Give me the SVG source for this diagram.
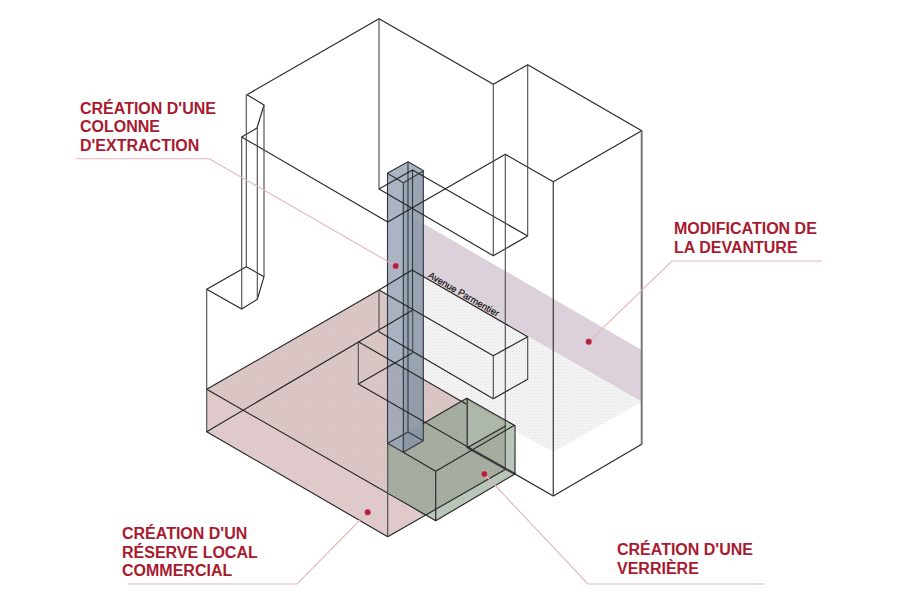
<svg xmlns="http://www.w3.org/2000/svg" width="900" height="600" viewBox="0 0 900 600">
<style>
.l{fill:none;stroke:#262626;stroke-width:1.15;stroke-linejoin:round;stroke-linecap:round}
.v{fill:none;stroke:#4a4a4a;stroke-width:1.1}
.c{fill:none;stroke:#2f3640;stroke-width:1.1;stroke-linejoin:round}
.t{font-family:"Liberation Sans",Arial,sans-serif;font-weight:700;font-size:16px;fill:#a81a30}
.ld{fill:none;stroke:#e5b4b9;stroke-width:1.1}
.d{fill:#b31f3a;stroke:#fff;stroke-opacity:.5;stroke-width:.6}
</style>
<defs>
<pattern id="st" width="3" height="3" patternUnits="userSpaceOnUse">
<rect width="3" height="3" fill="#f5f5f5"/><rect width="1" height="1" fill="#e0e0e0"/><rect x="1.5" y="1.5" width="1" height="1" fill="#e6e6e6"/>
</pattern>
<pattern id="sp" width="3" height="3" patternUnits="userSpaceOnUse">
<rect width="3" height="3" fill="#dcc8c8"/><rect width="1" height="1" fill="#d0b8b8"/><rect x="1.5" y="1.5" width="1" height="1" fill="#d4bdbd"/>
</pattern>
<pattern id="sg" width="3" height="3" patternUnits="userSpaceOnUse">
<rect width="3" height="3" fill="#a7afa2"/><rect width="1" height="1" fill="#9aa296"/><rect x="1.5" y="1.5" width="1" height="1" fill="#9ea69a"/>
</pattern>
</defs>
<rect width="900" height="600" fill="#fff"/>
<g id="fills">
<polygon points="412,217 641.7,350 641.7,401.7 412,270" fill="#dcd0da"/>
<polygon points="379,290 412,270 641.7,401.7 553.3,452 423,380 379,355" fill="url(#st)"/>
<polygon points="206.7,389.3 379,290 387.7,295 387.7,359.6 466.7,404.5 424,515" fill="url(#sp)"/>
<polygon points="206.7,389.3 424,515 387.7,536.7 206.7,431.7" fill="#dfc9ca"/>
</g>
<g id="verriere">
<polygon points="466.7,398.3 514.3,425.3 515,474 435.7,520.7 424,514" fill="#b9c6b9"/>
<polygon points="387.7,443 466.7,398.3 505.7,420.8 505.7,469.3 424,515.5 388,491.7" fill="url(#sg)"/>
<polygon points="467.7,401.7 505.7,423 467.7,446.7" fill="#aeb8aa"/>
</g>
<g id="colonne">
<polygon points="387.3,173.3 403.3,182.7 403.3,452.3 387.7,443.3" fill="#97a3b5" fill-opacity=".82"/>
<polygon points="403.3,182.7 423.7,170.7 423.3,440.7 403.3,452.3" fill="#8593a5" fill-opacity=".82"/>
<polygon points="387.3,173.3 408,161.7 423.7,170.7 403.3,182.7" fill="#aab4c2"/>
<path class="c" d="M387.3 173.3L408 161.7L423.7 170.7L403.3 182.7L387.3 173.3M387.5 173.3V443.3L403.3 452.3L423.3 440.7V170.7M403.3 182.7V452.3M408 161.7V432L387.7 443.3M408 432L423.3 440.7M412.5 170V310"/>
</g>
<g id="building">
<path class="l" d="M379 18.7L247 94.7L264 105L257 128L241.7 137L387.7 222L505.3 154.3L553.3 181.7L641.7 130.7L527.7 64.7L493.3 84.3L379 18.7"/>
<path class="l" d="M379 189L493.3 255.7L527.7 236L412.5 170L379 189"/>
<path class="l" d="M206.7 289.3L246.3 266.7L264 276.7L257.3 299.3L241.7 309L206.7 289.3"/>
<path class="l" d="M206.7 389.3L379 290L493.3 355.7L527.7 336.7L412 270L379 290"/>
<path class="l" d="M379 331.7L493.3 398.7L527.7 379.3"/>
<path class="l" d="M206.7 431.7L412.7 310M358.3 341.7L466 404M358.3 384L553.3 496L641.7 444.3M358.3 384L412.7 352.7"/>
<path class="l" d="M206.7 389.3L435.7 520.7M206.7 431.7L387.7 536.7L505.7 469.3"/>
<path class="v" d="M379 18.7V189M493.3 84.3V255.7M527.7 64.7V236M246.3 94.7V266.7M264 105V276.7M257.3 128V299.3M241.7 137V309M206.7 289.3V431.7M505.3 154.3V469.3M379 290V331.7M358.3 341.7V384M412.7 310V352.7M493.3 355.7V398.7M527.7 336.7V379.3M387.7 443V536.7"/>
<path d="M553.3 181.7V496" fill="none" stroke="#444" stroke-width="1.3"/>
<path d="M641.7 130.7V444.3" fill="none" stroke="#777" stroke-width="2"/>
<path d="M468 447.7L515 474" fill="none" stroke="#3c3c3c" stroke-width="2.2"/>
<path class="l" d="M403.3 452.3L435.7 471.3L514.3 425.3L466.7 398.3L423.3 423.4M435.7 471.3V520.7L515 474V425.3M467.2 398.3V447.7L505.7 426"/>
</g>
<text id="avenue" transform="translate(427.5 277) rotate(30)" font-family="'Liberation Sans',Arial,sans-serif" font-size="9.4" fill="#000" stroke="#000" stroke-width=".12">Avenue Parmentier</text>
<g id="connectors">
<path class="ld" d="M75.6 158.7H209.3L395.7 266"/>
<path class="ld" d="M588.7 341.7L672 261H822"/>
<path class="ld" d="M367.7 512.3L297 584H128"/>
<path class="ld" d="M484.3 474L588 584H765"/>
</g>
<g id="label-colonne">
<circle class="d" cx="395.7" cy="266" r="3.2"/>
<text class="t" x="80" y="113.5">CRÉATION D'UNE</text>
<text class="t" x="80" y="132">COLONNE</text>
<text class="t" x="80" y="150.7">D'EXTRACTION</text>
</g>
<g id="label-devanture">
<circle class="d" cx="588.7" cy="341.7" r="3.2"/>
<text class="t" x="674" y="234">MODIFICATION DE</text>
<text class="t" x="674" y="253">LA DEVANTURE</text>
</g>
<g id="label-reserve">
<circle class="d" cx="367.7" cy="512.3" r="3.2"/>
<text class="t" x="122" y="539">CRÉATION D'UN</text>
<text class="t" x="122" y="558">RÉSERVE LOCAL</text>
<text class="t" x="122" y="576">COMMERCIAL</text>
</g>
<g id="label-verriere">
<circle class="d" cx="484.3" cy="474" r="3.2"/>
<text class="t" x="617" y="555">CRÉATION D'UNE</text>
<text class="t" x="617" y="574">VERRIÈRE</text>
</g>
</svg>
